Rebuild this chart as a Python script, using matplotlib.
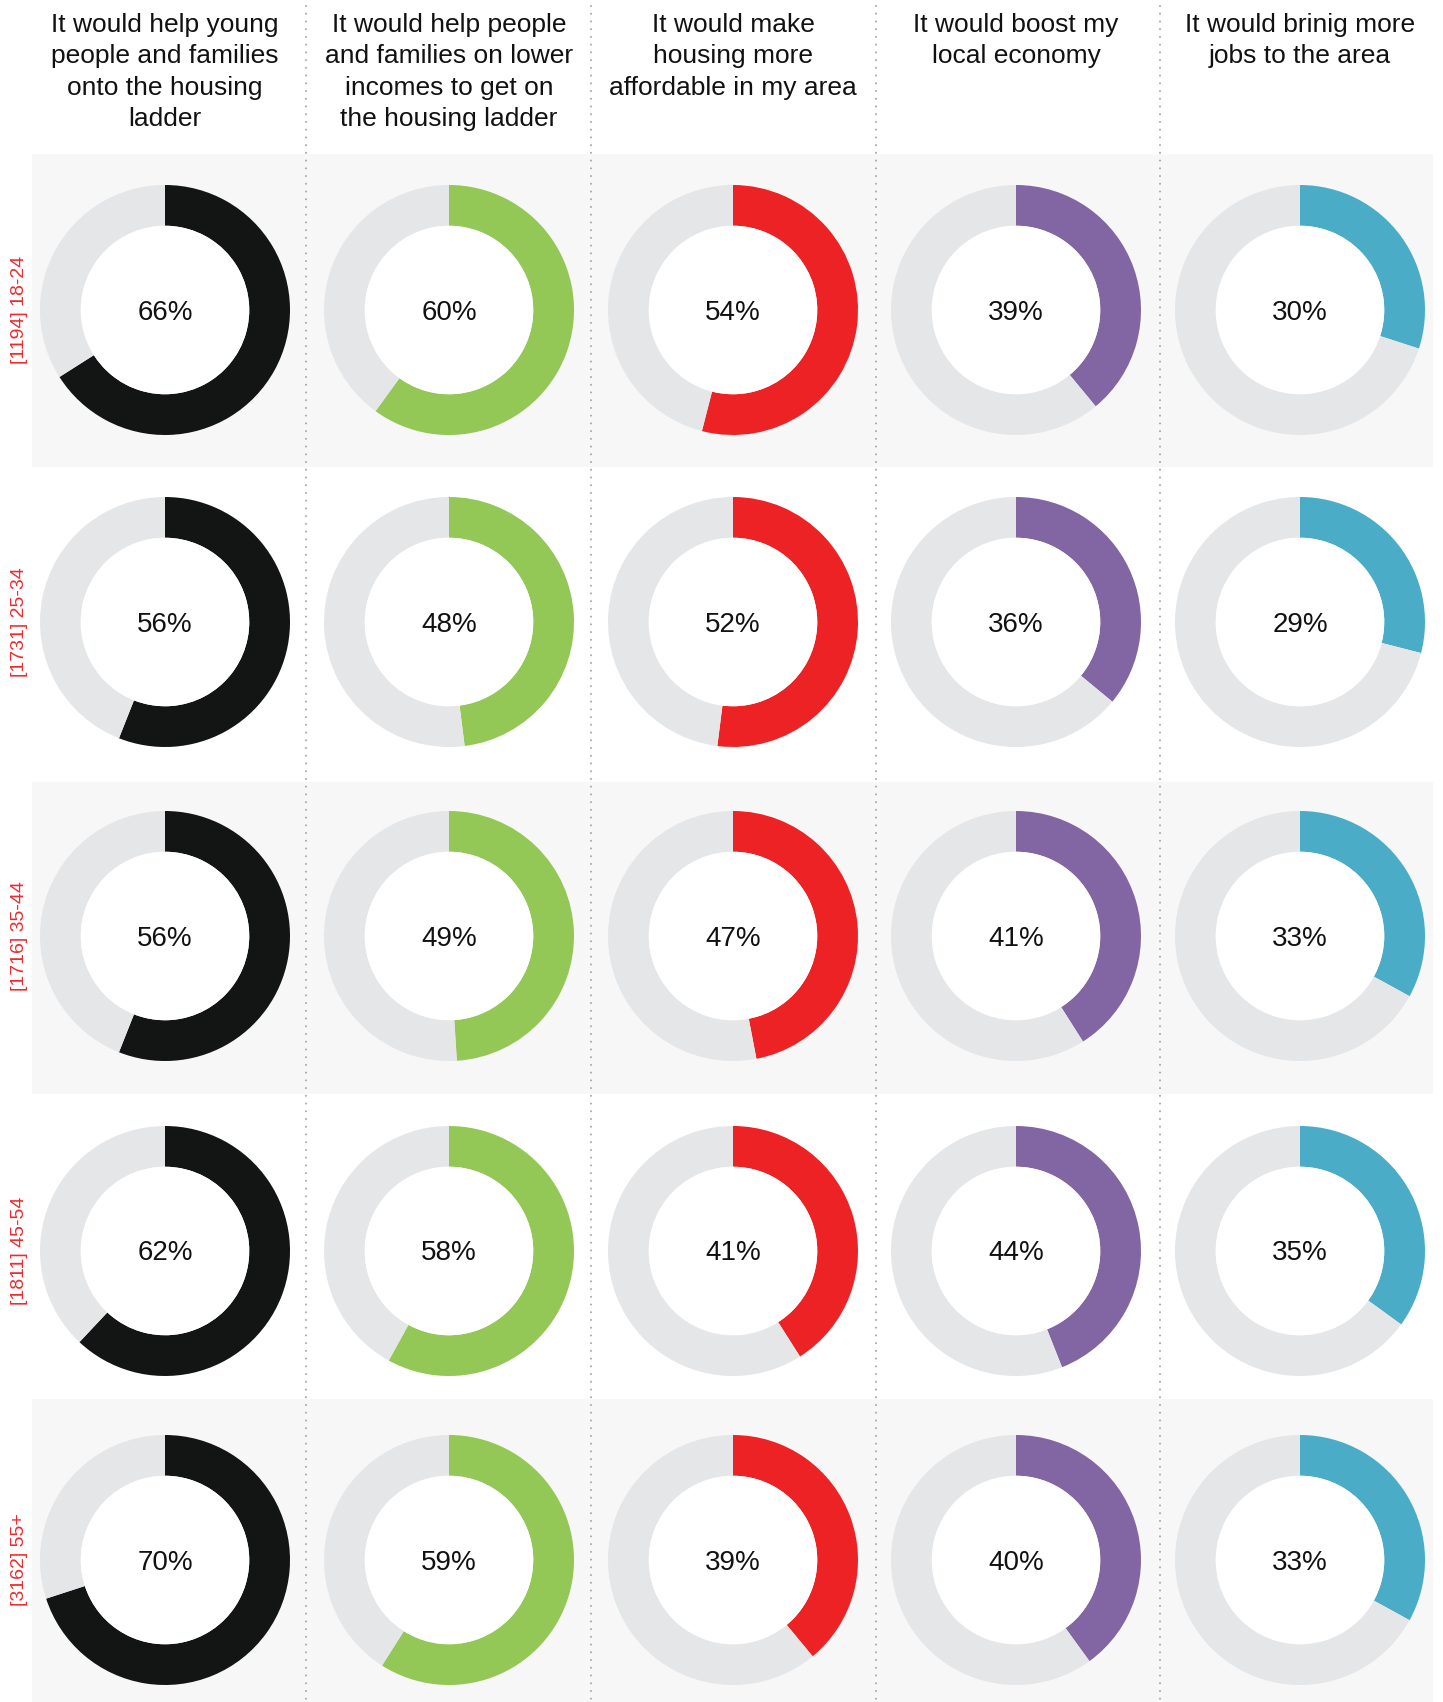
import matplotlib
matplotlib.use("Agg")
import matplotlib.pyplot as plt
from matplotlib.patches import Rectangle, Circle

plt.rcParams['font.family'] = ['Liberation Sans', 'DejaVu Sans']

# Survey statements (column headers)
statements = [
    "It would help young\npeople and families\nonto the housing\nladder",
    "It would help people\nand families on lower\nincomes to get on\nthe housing ladder",
    "It would make\nhousing more\naffordable in my area",
    "It would boost my\nlocal economy",
    "It would brinig more\njobs to the area",
]

# Age groups with sample sizes (row labels)
age_groups = ["[1194] 18-24", "[1731] 25-34", "[1716] 35-44", "[1811] 45-54", "[3162] 55+"]

# Share agreeing (%) per age group, one list per statement
young_families = [66, 56, 56, 62, 70]
lower_incomes = [60, 48, 49, 58, 59]
more_affordable = [54, 52, 47, 41, 39]
local_economy = [39, 36, 41, 44, 40]
more_jobs = [30, 29, 33, 35, 33]

series = [young_families, lower_incomes, more_affordable, local_economy, more_jobs]
colors = ["#131514", "#93c756", "#ed2224", "#8166a3", "#4aacc7"]
track = "#e5e6e8"
band = "#f7f7f7"

W, H = 1443, 1702
fig = plt.figure(figsize=(W / 100, H / 100), dpi=100)
fig.patch.set_facecolor("white")

# Background layer in pixel coordinates
bg = fig.add_axes([0, 0, 1, 1])
bg.set_xlim(0, W)
bg.set_ylim(H, 0)
bg.axis("off")

col_x = [165, 449, 733, 1016, 1300]
row_y = [310, 622, 936, 1251, 1560]
band_spans = [(154, 467), (782, 1094), (1399, 1702)]
for y0, y1 in band_spans:
    bg.add_patch(Rectangle((32, y0), 1433 - 32, y1 - y0, facecolor=band, edgecolor="none", zorder=0))

for x in [306, 591, 876, 1160]:
    bg.plot([x, x], [6, H], color="#a9a9a9", lw=1.5, linestyle=(0, (0.01, 3.7)),
            dash_capstyle="round", zorder=1)

for cx, txt in zip(col_x, statements):
    bg.text(cx, 13, txt, ha="center", va="top", fontsize=19, linespacing=1.39,
            color="#111111", zorder=3)

for cy, lab in zip(row_y, age_groups):
    bg.text(20, cy, lab, ha="center", va="center", rotation=90, fontsize=14,
            color="#ee2b2f", zorder=3)

# Donuts
R = 125
HOLE = 0.674
for j, (vals, col) in enumerate(zip(series, colors)):
    for i, v in enumerate(vals):
        cx, cy = col_x[j], row_y[i]
        ax = fig.add_axes([(cx - R) / W, 1 - (cy + R) / H, 2 * R / W, 2 * R / H])
        ax.pie([v, 100 - v], colors=[col, track], startangle=90, counterclock=False,
               radius=1.0, wedgeprops=dict(width=1 - HOLE, edgecolor="none", linewidth=0))
        ax.add_patch(Circle((0, 0), HOLE, facecolor="white", edgecolor="none", zorder=2))
        ax.set_xlim(-1, 1)
        ax.set_ylim(-1, 1)
        ax.set_aspect("equal")
        ax.axis("off")
        ax.text(0, -0.02, f"{v}%", ha="center", va="center", fontsize=20,
                color="#111111", zorder=3)

fig.savefig("out.png", dpi=100, facecolor="white")
